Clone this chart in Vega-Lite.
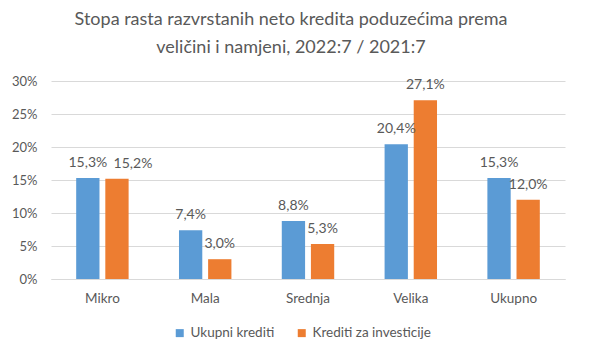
{
  "$schema": "https://vega.github.io/schema/vega-lite/v6.json",
  "width": 514,
  "height": 198,
  "autosize": {"type": "none"},
  "padding": {"left": 51, "top": 81, "right": 26, "bottom": 76},
  "background": "white",
  "config": {
    "locale": {"number": {"decimal": ",", "thousands": ".", "grouping": [3], "currency": ["", " €"]}},
    "font": "Lato",
    "view": {"stroke": null},
    "axis": {"labelColor": "#595959", "labelFontSize": 13, "labelFont": "Lato"}
  },
  "title": {
    "text": ["Stopa rasta razvrstanih neto kredita poduzećima prema", "veličini i namjeni, 2022:7 / 2021:7"],
    "fontSize": 18,
    "fontWeight": "normal",
    "color": "#595959",
    "anchor": "middle",
    "frame": "group",
    "dx": -17,
    "lineHeight": 28,
    "offset": 18
  },
  "data": {
    "values": [
      {"kategorija": "Mikro", "serija": "Ukupni krediti", "vrijednost": 0.153},
      {"kategorija": "Mikro", "serija": "Krediti za investicije", "vrijednost": 0.152},
      {"kategorija": "Mala", "serija": "Ukupni krediti", "vrijednost": 0.074},
      {"kategorija": "Mala", "serija": "Krediti za investicije", "vrijednost": 0.030},
      {"kategorija": "Srednja", "serija": "Ukupni krediti", "vrijednost": 0.088},
      {"kategorija": "Srednja", "serija": "Krediti za investicije", "vrijednost": 0.053},
      {"kategorija": "Velika", "serija": "Ukupni krediti", "vrijednost": 0.204},
      {"kategorija": "Velika", "serija": "Krediti za investicije", "vrijednost": 0.271},
      {"kategorija": "Ukupno", "serija": "Ukupni krediti", "vrijednost": 0.153},
      {"kategorija": "Ukupno", "serija": "Krediti za investicije", "vrijednost": 0.120}
    ]
  },
  "encoding": {
    "x": {
      "field": "kategorija",
      "type": "nominal",
      "sort": ["Mikro", "Mala", "Srednja", "Velika", "Ukupno"],
      "scale": {"paddingInner": 0.49, "paddingOuter": 0.245},
      "axis": {"title": null, "labelAngle": 0, "ticks": false, "domainColor": "#D9D9D9", "domainWidth": 1, "labelPadding": 12, "labelFontSize": 13.5}
    },
    "xOffset": {
      "field": "serija",
      "type": "nominal",
      "sort": ["Ukupni krediti", "Krediti za investicije"],
      "scale": {"paddingInner": 0.2, "paddingOuter": 0}
    },
    "y": {
      "field": "vrijednost",
      "type": "quantitative",
      "scale": {"domain": [0, 0.3], "nice": false},
      "axis": {"title": null, "format": ".0%", "values": [0, 0.05, 0.1, 0.15, 0.2, 0.25, 0.3], "domain": false, "ticks": false, "gridColor": "#D9D9D9", "gridWidth": 1, "labelPadding": 14}
    }
  },
  "layer": [
    {
      "mark": {"type": "bar"},
      "encoding": {
        "color": {
          "field": "serija",
          "type": "nominal",
          "sort": ["Ukupni krediti", "Krediti za investicije"],
          "scale": {"domain": ["Ukupni krediti", "Krediti za investicije"], "range": ["#5B9BD5", "#ED7D31"]},
          "legend": {
            "title": null,
            "orient": "none",
            "direction": "horizontal",
            "legendX": 122,
            "legendY": 245,
            "symbolType": "square",
            "symbolSize": 64,
            "labelFontSize": 13.5,
            "labelColor": "#595959",
            "columnPadding": 20,
            "labelOffset": 4
          }
        }
      }
    },
    {
      "transform": [{"filter": "!(datum.kategorija === 'Mikro' && datum.serija === 'Krediti za investicije')"}],
      "mark": {"type": "text", "baseline": "alphabetic", "dy": -11, "fontSize": 14, "color": "#595959"},
      "encoding": {
        "text": {"field": "vrijednost", "type": "quantitative", "format": ".1%"}
      }
    },
    {
      "transform": [{"filter": "datum.kategorija === 'Mikro' && datum.serija === 'Krediti za investicije'"}],
      "mark": {"type": "text", "baseline": "alphabetic", "dy": -11, "dx": 16, "fontSize": 14, "color": "#595959"},
      "encoding": {
        "text": {"field": "vrijednost", "type": "quantitative", "format": ".1%"}
      }
    }
  ]
}
